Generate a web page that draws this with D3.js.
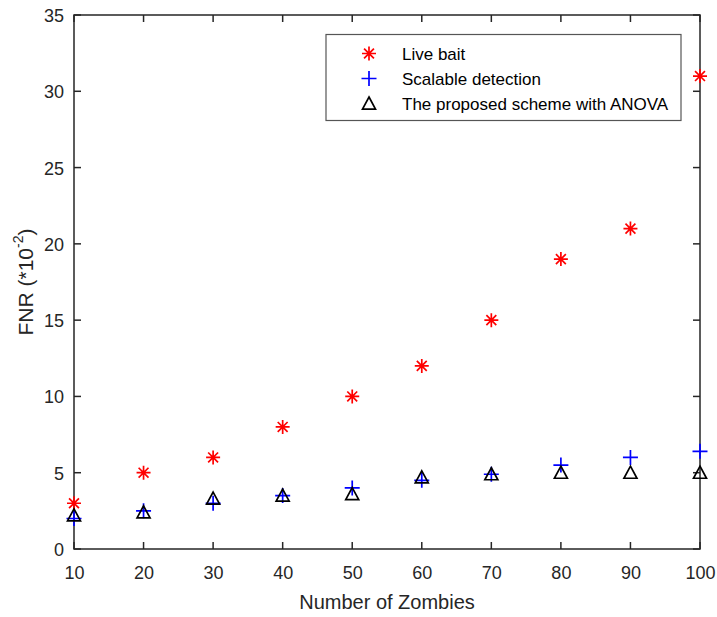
<!DOCTYPE html>
<html>
<head>
<meta charset="utf-8">
<script src="https://cdn.jsdelivr.net/npm/d3@7"></script>
<style>
  html, body { margin: 0; padding: 0; background: #fff; }
  svg { display: block; font-family: "Liberation Sans", Arial, Helvetica, sans-serif; }
</style>
</head>
<body>
<svg id="chart" width="717" height="617"></svg>
<script>
// Number of zombies on the x axis
const zombies = [10, 20, 30, 40, 50, 60, 70, 80, 90, 100];
// FNR values (x10^-2) for each scheme
const liveBait = [3, 5, 6, 8, 10, 12, 15, 19, 21, 31];
const scalableDetection = [2.0, 2.5, 3.0, 3.5, 4.0, 4.5, 4.9, 5.5, 6.0, 6.4];
const proposedAnova = [2.2, 2.4, 3.3, 3.5, 3.6, 4.7, 4.9, 5.0, 5.0, 5.0];
// Tick values
const xTicks = [10, 20, 30, 40, 50, 60, 70, 80, 90, 100];
const yTicks = [0, 5, 10, 15, 20, 25, 30, 35];
const seriesNames = ["Live bait", "Scalable detection", "The proposed scheme with ANOVA"];

const svg = d3.select("#chart");
const margin = { left: 74, right: 17, top: 15, bottom: 68 };
const W = 717, H = 617;
const x = d3.scaleLinear().domain([10, 100]).range([margin.left, W - margin.right]);
const y = d3.scaleLinear().domain([0, 35]).range([H - margin.bottom, margin.top]);

const axisColor = "#262626";
const tickLen = 7;

// Marker shapes
function asteriskPath(r) {
  const d = r * Math.SQRT1_2;
  return `M${-r},0L${r},0M0,${-r}L0,${r}M${-d},${-d}L${d},${d}M${-d},${d}L${d},${-d}`;
}
function plusPath(r) {
  return `M${-r},0L${r},0M0,${-r}L0,${r}`;
}
function trianglePath(r) {
  return `M0,${-r}L${r},${r * 0.85}L${-r},${r * 0.85}Z`;
}
const styles = [
  { path: asteriskPath(7), stroke: "#ff0000", fill: "none" },
  { path: plusPath(7.5), stroke: "#0000ff", fill: "none" },
  { path: trianglePath(6.5), stroke: "#000000", fill: "none" }
];

// Axes with inward ticks on all four sides
const gAxes = svg.append("g");
const bottomAxis = d3.axisBottom(x).tickValues(xTicks).tickSize(0).tickPadding(0).tickFormat(d3.format("d"));
const gx = gAxes.append("g").attr("transform", `translate(0,${y(0)})`).call(bottomAxis);
gx.select(".domain").remove();
gx.selectAll("text").attr("y", 30).attr("dy", null)
  .attr("font-size", 18).attr("fill", axisColor).attr("font-family", null);

const leftAxis = d3.axisLeft(y).tickValues(yTicks).tickSize(0).tickPadding(0).tickFormat(d3.format("d"));
const gy = gAxes.append("g").attr("transform", `translate(${x(10)},0)`).call(leftAxis);
gy.select(".domain").remove();
gy.selectAll("text").attr("x", -10).attr("dy", "0.36em")
  .attr("font-size", 18).attr("fill", axisColor).attr("font-family", null);

const tickG = gAxes.append("g").attr("stroke", axisColor).attr("stroke-width", 1.5);
xTicks.forEach(v => {
  tickG.append("line").attr("x1", x(v)).attr("x2", x(v)).attr("y1", y(0)).attr("y2", y(0) - tickLen);
  tickG.append("line").attr("x1", x(v)).attr("x2", x(v)).attr("y1", y(35)).attr("y2", y(35) + tickLen);
});
yTicks.forEach(v => {
  tickG.append("line").attr("x1", x(10)).attr("x2", x(10) + tickLen).attr("y1", y(v)).attr("y2", y(v));
  tickG.append("line").attr("x1", x(100)).attr("x2", x(100) - tickLen).attr("y1", y(v)).attr("y2", y(v));
});
gAxes.append("rect")
  .attr("x", x(10)).attr("y", y(35))
  .attr("width", x(100) - x(10)).attr("height", y(0) - y(35))
  .attr("fill", "none").attr("stroke", axisColor).attr("stroke-width", 1.5);

// Axis titles
svg.append("text")
  .attr("x", (x(10) + x(100)) / 2).attr("y", 609)
  .attr("text-anchor", "middle").attr("font-size", 20).attr("fill", axisColor)
  .text("Number of Zombies");

const yl = svg.append("text")
  .attr("transform", `translate(33,${(y(0) + y(35)) / 2}) rotate(-90)`)
  .attr("text-anchor", "middle").attr("font-size", 21).attr("fill", axisColor);
yl.append("tspan").text("FNR (*10");
yl.append("tspan").attr("font-size", 14).attr("dy", "-0.75em").text("-2");
yl.append("tspan").attr("dy", "0.5em").text(")");

// Data points
const allSeries = [liveBait, scalableDetection, proposedAnova];
allSeries.forEach((vals, i) => {
  svg.append("g").selectAll("path").data(vals).join("path")
    .attr("transform", (d, j) => `translate(${x(zombies[j])},${y(d)})`)
    .attr("d", styles[i].path)
    .attr("stroke", styles[i].stroke).attr("fill", styles[i].fill)
    .attr("stroke-width", 1.7);
});

// Legend
const lg = svg.append("g");
lg.append("rect").attr("x", 326).attr("y", 34.5).attr("width", 355).attr("height", 86)
  .attr("fill", "#fff").attr("stroke", "#555").attr("stroke-width", 1.2);
seriesNames.forEach((name, i) => {
  const cy = 53.5 + i * 25;
  lg.append("path").attr("transform", `translate(369,${cy})`)
    .attr("d", styles[i].path).attr("stroke", styles[i].stroke).attr("fill", "none").attr("stroke-width", 1.7);
  lg.append("text").attr("x", 402).attr("y", cy + 6.2).attr("font-size", 17).attr("fill", "#000").text(name);
});
</script>
</body>
</html>
